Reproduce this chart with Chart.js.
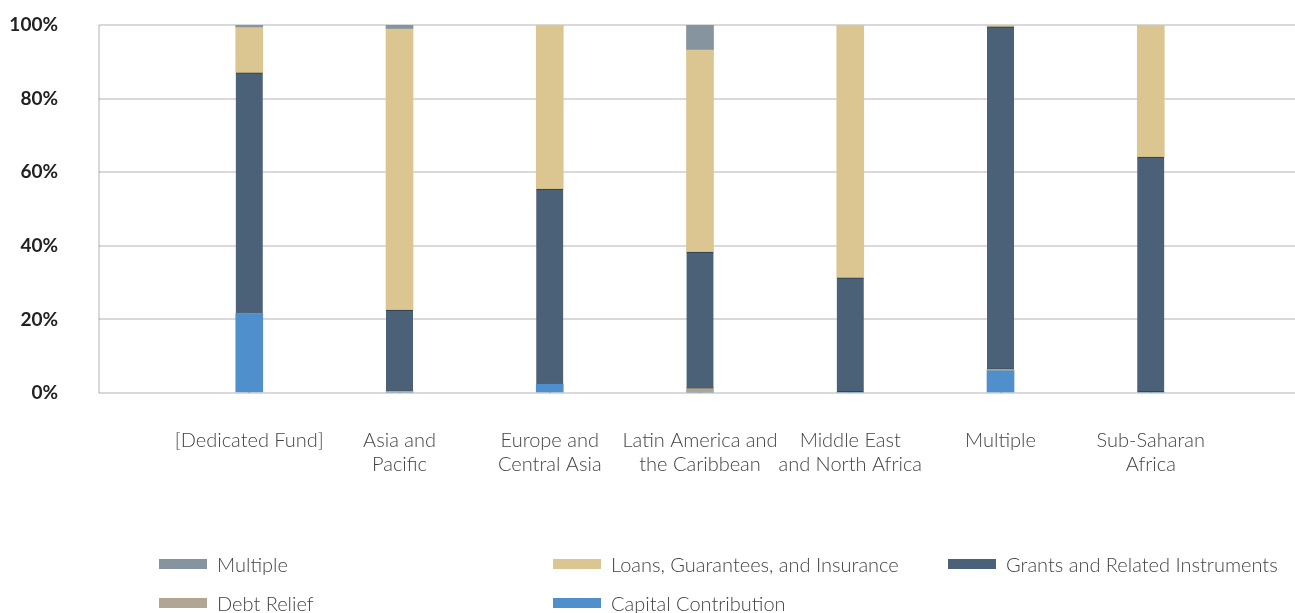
<!DOCTYPE html>
<html>
<head>
<meta charset="utf-8">
<script src="https://cdn.jsdelivr.net/npm/chart.js@4/dist/chart.umd.min.js"></script>
<style>
  body { margin: 0; background: #fff; font-family: Lato, 'Open Sans', sans-serif; }
  #wrap { position: relative; width: 1295px; height: 613px; overflow: hidden; }
  #chartBox { position: absolute; left: 0; top: 0; width: 1295px; height: 500px; }
  #legend { position: absolute; left: 0; top: 0; width: 1295px; height: 613px; pointer-events: none; }
  .item { position: absolute; display: flex; align-items: center; height: 24px; color: #444; font-size: 20px; font-weight: 300; white-space: nowrap; }
  .swatch { width: 48px; height: 10px; margin-right: 10px; }
</style>
</head>
<body>
<div id="wrap">
  <div id="chartBox"><canvas id="fundChart"></canvas></div>
  <div id="legend"></div>
</div>
<script>
// regions along the x axis, one entry per bar (each entry is the wrapped label lines)
const regions = [
  ['[Dedicated Fund]'],
  ['Asia and', 'Pacific'],
  ['Europe and', 'Central Asia'],
  ['Latin America and', 'the Caribbean'],
  ['Middle East', 'and North Africa'],
  ['Multiple'],
  ['Sub-Saharan', 'Africa']
];

// share of funding by instrument, percent
const capitalContribution = [21.6, 0, 2.4, 0, 0, 6.0, 0];
const debtRelief          = [0, 0.5, 0, 1.2, 0, 0.4, 0];
const grants              = [65.4, 22.0, 53.0, 37.1, 31.3, 93.1, 64.1];
const loans               = [12.3, 76.4, 44.6, 54.9, 68.7, 0.5, 35.9];
const multiple            = [0.7, 1.1, 0, 6.8, 0, 0, 0];

const yTicks = [0, 20, 40, 60, 80, 100];

const toPoints = arr => arr.map((v, i) => ({ x: i + 1, y: v }));

// bottom-to-top stacking order
const series = [
  { label: 'Capital Contribution', data: capitalContribution, color: '#4f90cc' },
  { label: 'Debt Relief', data: debtRelief, color: '#b0a693' },
  { label: 'Grants and Related Instruments', data: grants, color: '#4a6178', border: '#2d3d4d' },
  { label: 'Loans, Guarantees, and Insurance', data: loans, color: '#dbc591' },
  { label: 'Multiple', data: multiple, color: '#85949e' }
];

const gridColor = 'rgba(0, 0, 0, 0.15)';

const ctx = document.getElementById('fundChart').getContext('2d');
const fundChart = new Chart(ctx, {
  type: 'bar',
  data: {
    datasets: series.map(s => ({
      label: s.label,
      data: toPoints(s.data),
      backgroundColor: s.color,
      borderColor: s.border || s.color,
      borderWidth: s.border ? { top: 1, bottom: 1, left: 0, right: 0 } : 0,
      borderSkipped: false,
      barThickness: 27
    }))
  },
  options: {
    responsive: true,
    maintainAspectRatio: false,
    animation: false,
    layout: { padding: { top: 25, right: 0, left: 0, bottom: 0 } },
    plugins: {
      legend: { display: false },
      tooltip: { enabled: false }
    },
    scales: {
      x: {
        type: 'linear',
        stacked: true,
        offset: false,
        min: 0,
        max: 7.96,
        z: 1,
        afterBuildTicks: scale => {
          scale.ticks = [0, 1, 2, 3, 4, 5, 6, 7].map(v => ({ value: v }));
        },
        afterFit: scale => { scale.height = 107; },
        border: { display: false },
        grid: { color: gridColor, lineWidth: 2, drawTicks: false, offset: false },
        ticks: {
          autoSkip: false,
          maxRotation: 0,
          padding: 36,
          color: '#444',
          font: { family: 'Lato', size: 20, weight: 300, lineHeight: 1.2 },
          callback: value => (value >= 1 && value <= regions.length) ? regions[value - 1] : ''
        }
      },
      y: {
        stacked: true,
        min: 0,
        max: 100,
        z: 1,
        afterFit: scale => { scale.width = 99; },
        afterBuildTicks: scale => {
          scale.ticks = yTicks.map(v => ({ value: v }));
        },
        border: { display: false },
        // invisible tick marks keep the labels away from the plot without adding top padding
        grid: { color: gridColor, lineWidth: 2, drawTicks: true, tickLength: 41, tickColor: 'transparent' },
        ticks: {
          padding: 0,
          color: '#222',
          font: { family: 'Lato', size: 19, weight: 'bold' },
          callback: value => value + '%'
        }
      }
    }
  }
});

// legend laid out in three fixed columns, top item first
const legendSlots = [
  { x: 159, y: 552 }, { x: 553, y: 552 }, { x: 948, y: 552 },
  { x: 159, y: 591 }, { x: 553, y: 591 }
];
const legendBox = document.getElementById('legend');
series.slice().reverse().forEach((s, i) => {
  const el = document.createElement('div');
  el.className = 'item';
  el.style.left = legendSlots[i].x + 'px';
  el.style.top = legendSlots[i].y + 'px';
  el.innerHTML = `<span class="swatch" style="background:${s.color}"></span>${s.label}`;
  legendBox.appendChild(el);
});
</script>
</body>
</html>
